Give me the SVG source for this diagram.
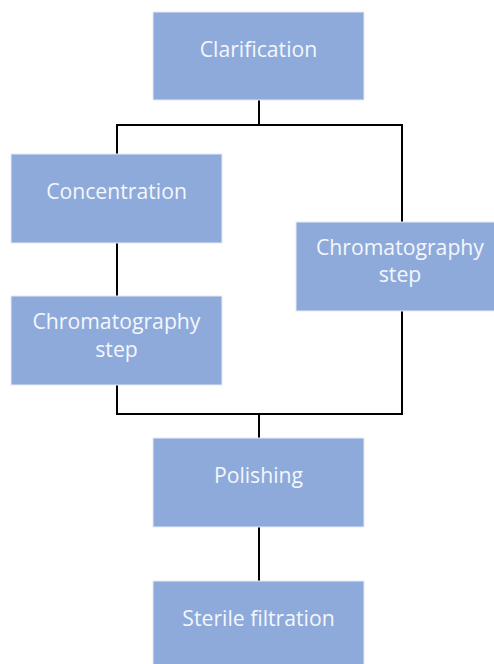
<svg xmlns="http://www.w3.org/2000/svg" width="494" height="664" viewBox="0 0 494 664">
<style>
.box{fill:#8eaadb;stroke:#e4ebf6;stroke-width:1}
.lbl{font-family:"Open Sans","Liberation Sans",sans-serif;font-size:21.2px;fill:#f4f7fc;text-anchor:middle}
.con{stroke:#000;stroke-width:2;fill:none}
</style>
<rect width="494" height="664" fill="#fff"/>
<g id="connectors">
<path class="con" d="M259,100 V125 M116,125 H403 M117,125 V154 M117,243 V296 M117,385 V414 H403 M402,125 V222 M402,311 V414 M259,414 V438 M259,527 V581"/>
</g>
<g id="clarification"><rect class="box" x="153" y="12" width="211" height="88"/><text class="lbl" x="258.5" y="57">Clarification</text></g>
<g id="concentration"><rect class="box" x="11" y="154" width="211" height="89"/><text class="lbl" x="116.5" y="199">Concentration</text></g>
<g id="chrom-left"><rect class="box" x="11" y="296" width="211" height="89"/><text class="lbl" x="116.5" y="329">Chromatography</text><text class="lbl" x="116.5" y="357">step</text></g>
<g id="chrom-right"><rect class="box" x="296" y="222" width="200" height="89"/><text class="lbl" x="400" y="255">Chromatography</text><text class="lbl" x="400" y="282">step</text></g>
<g id="polishing"><rect class="box" x="153" y="438" width="211" height="89"/><text class="lbl" x="258.5" y="483">Polishing</text></g>
<g id="sterile"><rect class="box" x="153" y="581" width="211" height="90"/><text class="lbl" x="258.5" y="626">Sterile filtration</text></g>
</svg>
